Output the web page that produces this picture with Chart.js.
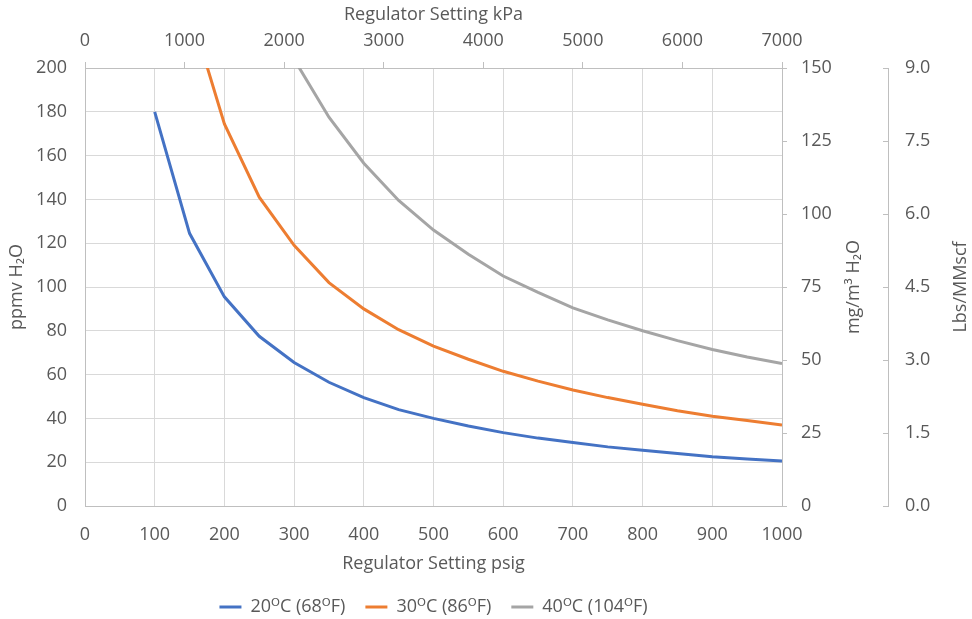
<!DOCTYPE html>
<html>
<head>
<meta charset="utf-8">
<script src="https://cdn.jsdelivr.net/npm/chart.js@4"></script>
<style>
  html, body { margin: 0; padding: 0; background: #fff; }
</style>
</head>
<body>
<canvas id="chart" width="972" height="619"></canvas>
<script>
// regulator setting (psig) sample points
const psig = [100, 150, 200, 250, 300, 350, 400, 450, 500, 550, 600, 650, 700, 750, 800, 850, 900, 950, 1000];
// ppmv H2O per temperature
const ppmv20 = [180, 124.5, 95.5, 77.5, 65.5, 56.5, 49.5, 44, 40, 36.5, 33.5, 31, 29, 27, 25.5, 24, 22.5, 21.5, 20.5];
const ppmv30 = [null, 227, 174.5, 141, 119, 102, 90, 80.5, 73, 67, 61.5, 57, 53, 49.5, 46.5, 43.5, 41, 39, 37];
const ppmv40 = [null, null, null, null, 204, 177.5, 156.5, 139.5, 126, 115, 105, 97.5, 90.5, 85, 80, 75.5, 71.5, 68, 65];
const seriesNames = ['20ᴼC (68ᴼF)', '30ᴼC (86ᴼF)', '40ᴼC (104ᴼF)'];

const fontFamily = "'Open Sans', 'DejaVu Sans', sans-serif";
const textColor = '#595959';
const gridColor = '#d9d9d9';
const axisColor = '#bfbfbf';
const tickFont = { family: fontFamily, size: 18 };

function toPoints(values) {
    return psig.map((p, i) => ({ x: p, y: values[i] }));
}

function lineSet(label, values, color) {
    return {
        label: label,
        data: toPoints(values),
        borderColor: color,
        backgroundColor: color,
        borderWidth: 3,
        pointRadius: 0,
        tension: 0,
        xAxisID: 'x',
        yAxisID: 'y'
    };
}

const plain = v => String(v);

// titles on the right read bottom-to-top, plus leftward ticks of the far axis
const sideTitles = {
    id: 'sideTitles',
    afterDraw(chart) {
        const ctx = chart.ctx;
        const area = chart.chartArea;
        const midY = (area.top + area.bottom) / 2;
        const mg = chart.scales.yMg;
        const lbs = chart.scales.yLbs;
        ctx.save();
        ctx.fillStyle = textColor;
        ctx.font = '18px ' + fontFamily;
        ctx.textAlign = 'center';
        ctx.textBaseline = 'middle';
        [[mg.right - 34, 'mg/m³ H₂O'], [lbs.right - 11, 'Lbs/MMscf']].forEach(([x, t]) => {
            ctx.save();
            ctx.translate(x, midY);
            ctx.rotate(-Math.PI / 2);
            ctx.fillText(t, 0, 0);
            ctx.restore();
        });
        ctx.strokeStyle = axisColor;
        ctx.lineWidth = 1;
        lbs.ticks.forEach((t, i) => {
            const y = Math.round(lbs.getPixelForTick(i)) + 0.5;
            ctx.beginPath();
            ctx.moveTo(lbs.left - 5, y);
            ctx.lineTo(lbs.left, y);
            ctx.stroke();
        });
        ctx.restore();
    }
};

new Chart(document.getElementById('chart'), {
    type: 'line',
    data: {
        datasets: [
            lineSet(seriesNames[0], ppmv20, '#4472c4'),
            lineSet(seriesNames[1], ppmv30, '#ed7d31'),
            lineSet(seriesNames[2], ppmv40, '#a5a5a5')
        ]
    },
    options: {
        responsive: false,
        animation: false,
        layout: { padding: { top: 0, left: 0, right: 0, bottom: -7 } },
        plugins: {
            tooltip: { enabled: false },
            legend: {
                position: 'bottom',
                fullSize: false,
                labels: {
                    usePointStyle: true,
                    pointStyle: 'line',
                    pointStyleWidth: 22,
                    color: textColor,
                    font: tickFont,
                    padding: 20
                }
            }
        },
        scales: {
            x: {
                type: 'linear',
                position: 'bottom',
                min: 0,
                max: 1000,
                ticks: { stepSize: 100, color: textColor, font: tickFont, padding: 18, callback: plain },
                grid: { color: gridColor, drawTicks: false },
                border: { color: axisColor },
                title: { display: true, text: 'Regulator Setting psig', color: textColor, font: tickFont, padding: { top: 3, bottom: 3 } },
                afterFit(s) { s.height = 72; }
            },
            xTop: {
                type: 'linear',
                position: 'top',
                min: 0,
                max: 7000,
                ticks: { stepSize: 1000, color: textColor, font: tickFont, padding: 10, callback: plain },
                grid: { drawOnChartArea: false, tickLength: 6, color: axisColor },
                border: { color: axisColor },
                title: { display: true, text: 'Regulator Setting kPa', color: textColor, font: tickFont, padding: { top: 4, bottom: 4 } },
                afterFit(s) { s.height = 68; }
            },
            y: {
                position: 'left',
                min: 0,
                max: 200,
                ticks: { stepSize: 20, color: textColor, font: tickFont, padding: 18 },
                grid: { color: gridColor, drawTicks: false },
                border: { color: axisColor },
                title: { display: true, text: 'ppmv H₂O', color: textColor, font: tickFont, padding: { top: 6, bottom: 0 } },
                afterFit(s) { s.width = 85; }
            },
            yMg: {
                position: 'right',
                min: 0,
                max: 150,
                ticks: { stepSize: 25, color: textColor, font: tickFont, padding: 14 },
                grid: { drawOnChartArea: false, tickLength: 5, color: axisColor },
                border: { color: axisColor },
                afterFit(s) { s.width = 106; }
            },
            yLbs: {
                position: 'right',
                weight: 1,
                min: 0,
                max: 9,
                ticks: { stepSize: 1.5, color: textColor, font: tickFont, padding: 17, callback: v => v.toFixed(1) },
                grid: { drawOnChartArea: false, drawTicks: false },
                border: { color: axisColor },
                afterFit(s) { s.width = 84; }
            }
        }
    },
    plugins: [sideTitles]
});
</script>
</body>
</html>
